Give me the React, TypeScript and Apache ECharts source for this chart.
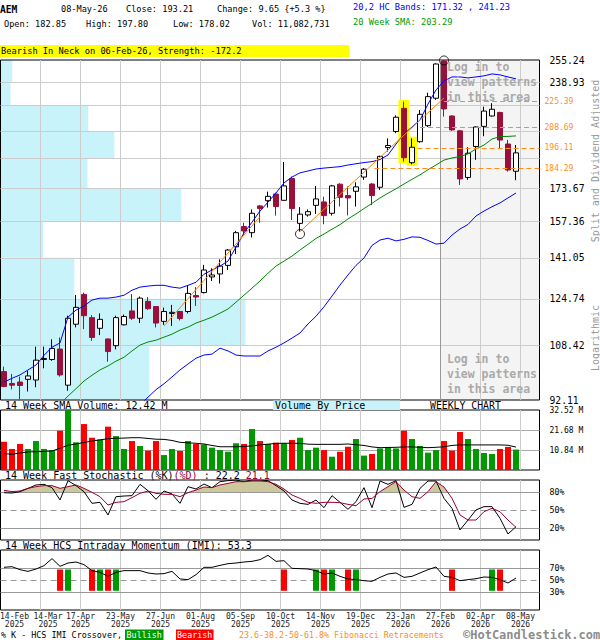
import React, { useEffect, useRef } from 'react';
import * as echarts from 'echarts';

const FONT = '"DejaVu Sans Mono", "Liberation Mono", monospace';

// ---------- data ----------
const tickLabels = [
  '14-Feb\n2025', '14-Mar\n2025', '17-Apr\n2025', '23-May\n2025', '27-Jun\n2025', '01-Aug\n2025',
  '05-Sep\n2025', '10-Oct\n2025', '14-Nov\n2025', '19-Dec\n2025', '23-Jan\n2026', '27-Feb\n2026',
  '02-Apr\n2026', '08-May\n2026',
];

const opens = [100.3, 96.8, 97.2, 98.0, 97.8, 104.0, 104.0, 107.3, 96.3, 115.6, 126.4, 117.9, 114.2, 110.6, 108.4, 115.4, 120.3, 117.7, 123.8, 121.9, 116.6, 119.4, 120.1, 120.1, 126.0, 127.1, 133.2, 134.4, 137.9, 145.8, 154.9, 152.1, 164.8, 167.4, 170.8, 167.6, 178.9, 156.4, 160.4, 165.1, 166.8, 161.2, 175.9, 170.0, 172.2, 179.7, 176.0, 174.3, 196.3, 206.0, 220.8, 187.6, 199.8, 209.6, 227.6, 254.5, 215.8, 206.4, 179.5, 196.9, 209.2, 215.8, 218.1, 198.4, 182.85];
const highs = [101.8, 99.6, 98.8, 100.6, 108.1, 108.1, 110.5, 111.1, 118.6, 126.2, 127.1, 118.8, 119.4, 110.8, 118.6, 119.0, 126.5, 125.6, 125.4, 121.9, 121.5, 122.5, 120.3, 129.7, 129.2, 138.1, 136.7, 140.4, 144.8, 152.9, 156.7, 163.1, 165.3, 172.0, 171.5, 188.0, 180.0, 164.2, 163.1, 175.0, 169.4, 175.5, 176.4, 174.7, 176.9, 184.6, 176.4, 191.6, 201.8, 216.2, 225.3, 201.8, 219.7, 231.4, 252.7, 255.2, 216.2, 207.0, 196.5, 209.2, 221.9, 224.2, 218.6, 200.8, 197.80];
const lows = [95.7, 95.1, 92.3, 94.5, 95.7, 101.3, 103.6, 98.8, 94.7, 114.5, 113.9, 110.0, 111.9, 103.3, 107.2, 115.2, 117.1, 116.0, 120.7, 114.5, 115.4, 115.0, 116.9, 119.4, 122.1, 126.8, 131.6, 130.6, 136.0, 142.7, 150.6, 149.9, 156.7, 164.0, 160.1, 167.4, 158.0, 152.6, 159.6, 160.9, 156.0, 160.1, 164.5, 160.2, 164.5, 178.2, 165.2, 172.9, 194.0, 205.0, 188.2, 186.7, 199.2, 208.8, 226.5, 215.4, 206.4, 175.5, 178.2, 189.2, 203.1, 215.4, 195.9, 182.7, 178.02];
const closes = [95.9, 96.3, 96.2, 99.0, 103.8, 104.3, 107.5, 99.3, 117.7, 121.6, 118.6, 111.1, 117.3, 106.5, 117.9, 118.3, 117.7, 125.0, 121.1, 116.0, 120.1, 119.8, 117.6, 126.8, 125.4, 136.0, 134.0, 137.6, 144.4, 152.1, 152.9, 161.2, 163.5, 169.6, 164.5, 175.0, 163.5, 160.8, 162.0, 168.3, 160.1, 175.0, 169.1, 168.8, 174.5, 184.0, 170.0, 191.2, 197.5, 215.0, 190.4, 196.5, 216.9, 228.7, 252.2, 220.4, 207.0, 178.7, 193.0, 208.8, 219.0, 220.2, 200.8, 183.56, 193.21];

const upperBand = [97.2, 98.3, 99.3, 100.8, 102.3, 105.3, 107.9, 109.3, 118.1, 120.6, 122.1, 124.3, 125.0, 125.0, 125.4, 126.1, 128.0, 129.2, 129.6, 129.9, 129.9, 129.2, 128.8, 129.9, 131.1, 134.3, 136.0, 137.6, 139.7, 145.7, 152.0, 157.0, 162.3, 166.7, 171.3, 176.6, 179.7, 182.0, 183.0, 184.1, 184.6, 185.0, 185.4, 186.3, 187.0, 187.7, 188.2, 189.4, 192.0, 198.4, 204.5, 208.8, 213.2, 223.7, 233.3, 239.7, 242.6, 242.6, 241.9, 242.6, 243.4, 244.8, 244.1, 242.6, 241.23];
const lowerBandStart = 16;
const lowerBand = [88.5, 90.8, 92.9, 95.0, 96.7, 98.7, 100.8, 102.6, 104.4, 105.4, 105.7, 107.6, 106.7, 105.4, 105.1, 105.1, 105.1, 106.7, 107.9, 109.3, 110.9, 112.6, 115.7, 118.4, 121.8, 125.8, 130.0, 134.0, 137.9, 141.0, 146.4, 148.8, 149.6, 148.4, 149.1, 150.2, 150.0, 148.6, 147.0, 147.4, 151.0, 153.8, 155.9, 159.9, 162.3, 164.4, 166.3, 168.8, 171.32];
const smaStart = 7;
const sma20 = [91.0, 93.2, 95.3, 97.5, 99.2, 100.8, 102.0, 103.5, 104.7, 106.7, 108.6, 109.6, 110.2, 111.2, 112.2, 113.6, 114.6, 116.0, 117.0, 118.1, 119.5, 121.0, 123.5, 126.1, 128.8, 131.6, 134.7, 137.6, 139.7, 141.8, 144.4, 146.9, 149.5, 151.5, 153.7, 155.8, 158.5, 160.9, 163.5, 166.1, 168.8, 171.2, 173.5, 176.0, 178.5, 180.9, 183.7, 186.3, 189.1, 190.3, 191.1, 192.6, 195.5, 197.8, 201.4, 202.9, 203.0, 203.29];

const volumes = [15.3, 11.4, 14.1, 11.4, 15.7, 11.4, 10.8, 21.3, 32.5, 15.0, 24.9, 17.5, 16.6, 23.5, 18.4, 11.4, 15.7, 13.0, 10.5, 15.7, 8.1, 11.4, 10.3, 15.7, 14.1, 13.9, 12.1, 10.8, 9.9, 14.5, 14.1, 22.2, 15.7, 14.1, 14.8, 14.5, 16.3, 17.5, 10.8, 12.1, 10.8, 7.2, 9.9, 12.6, 16.8, 7.8, 8.7, 11.7, 12.5, 11.7, 21.3, 16.8, 13.0, 9.4, 10.8, 15.7, 10.5, 20.6, 16.8, 11.4, 9.2, 8.7, 11.4, 12.5, 11.08];
const volSma = [8.9, 8.5, 9.2, 9.8, 9.9, 10.1, 10.3, 11.8, 13.4, 14.1, 14.9, 15.7, 16.3, 17.0, 17.2, 17.3, 17.5, 17.5, 17.1, 16.7, 16.6, 16.0, 15.0, 14.7, 14.5, 14.1, 13.3, 12.6, 12.6, 12.6, 12.7, 13.1, 13.6, 14.0, 14.4, 14.5, 14.5, 14.4, 14.0, 13.9, 13.9, 13.9, 13.9, 14.1, 13.7, 13.3, 12.5, 12.1, 12.2, 12.3, 12.5, 12.5, 12.3, 12.1, 12.3, 12.6, 13.3, 13.6, 13.6, 13.6, 13.6, 13.6, 13.6, 13.4, 12.42];

const stochK = [78.8, 78.3, 80.5, 86, 91.7, 92.8, 87.2, 66.7, 98.9, 90.6, 80.5, 61.1, 62.8, 41.7, 72.2, 73.3, 73.9, 92.8, 82.2, 67.8, 81.7, 76.7, 61.1, 88.9, 85, 93.3, 87.2, 97.2, 98.9, 100, 97.2, 100, 100, 98.9, 90.6, 81.7, 66.7, 61.1, 59.4, 66.7, 53.9, 73.9, 62.8, 51.1, 63.9, 87.2, 53.9, 98.3, 92.8, 98.9, 54.4, 59.4, 86.1, 98.3, 98.3, 69.4, 52.8, 16.7, 33.3, 50, 55.6, 55.6, 36.1, 10, 22.2];
const stochD = [82.8, 80.6, 81.7, 86.1, 88.9, 90.6, 90.6, 86.1, 88.9, 91.7, 86.1, 79.4, 72.2, 58.3, 62.8, 63.9, 70.6, 77.8, 81.7, 77.8, 76.1, 76.1, 72.2, 78.9, 83.3, 88.3, 87.2, 91.7, 94.4, 97.2, 97.2, 98.3, 98.3, 97.2, 92.8, 85, 75, 69.4, 62.8, 61.1, 62.8, 62.8, 62.2, 59.4, 57.2, 68.3, 69.4, 80.6, 88.9, 97.2, 83.3, 72.2, 69.4, 80.6, 97.2, 88.3, 69.4, 41.7, 33.3, 33.3, 47.2, 52.8, 47.2, 33.3, 21.1];
const stochLevels = [20, 50, 80];
const stochFillLevel = 80;

const imi = [71.1, 72.2, 67.2, 64.4, 68.3, 73.9, 85.6, 72.8, 78.3, 80, 75.6, 65.6, 62.8, 56.1, 62.8, 65.6, 65.6, 65.6, 61.7, 60, 60.6, 64.4, 51.7, 50.6, 58.9, 71.1, 71.1, 74.4, 77.2, 78.3, 80, 81.1, 83.9, 91.1, 81.1, 82.2, 69.4, 68.9, 68.3, 65.6, 60, 61.7, 56.1, 51.7, 50.6, 48.9, 47.8, 54.4, 60, 61.7, 54.4, 56.1, 61.7, 67.2, 71.7, 56.1, 54.4, 48.9, 50.6, 52.2, 55, 54.4, 50.6, 45, 53.3];
const imiLevels = [30, 50, 70];
const bullishCross = [8, 12, 14, 39, 41, 44, 61];
const bearishCross = [7, 11, 13, 35, 40, 43, 56, 62];
const crossBarRange = [32, 67.5];

const priceLevels = [92.11, 108.42, 124.74, 141.05, 157.36, 173.67, 189.98, 206.29, 222.61, 238.93, 255.24];
const priceLevelShown = [true, true, true, true, true, true, false, false, false, true, true];
const vbpVolumes = [74.4, 122.5, 36.9, 21.4, 90.4, 43.5, 56.9, 43.9, 5.0, 5.9];

const fibLevels = [225.39, 208.69, 196.11, 184.29];
const fibStartIdx = [55, 52, 51.7, 46.3];
const trendLines = [
  [[20, 115.0], [32, 159.6]],
  [[37, 152.6], [55, 227.8]],
];
const swingPoints = [[37, 151.5], [55, 254.9]];
const patternIdx = [50, 51];
const lockedFromIdx = 54.5625;

// ---------- helpers ----------
const X_OFF = 0.4375;
const X_MAX = 67.375;
const xOf = (i: number) => i + X_OFF;

const txt = (text: string, x: number, y: number, o: any = {}) => ({
  type: 'text', x, y, silent: true, z: 100, rotation: o.rotation || 0,
  style: {
    text, fill: o.color || '#000', fontSize: o.size || 8.6, fontFamily: FONT,
    fontWeight: o.bold ? 'bold' : 'normal',
    align: o.align || 'left', textAlign: o.align || 'left',
    verticalAlign: 'middle', textVerticalAlign: 'middle',
    rich: o.rich,
  },
});

const xAxisBase = (gridIndex: number) => ({
  type: 'value', gridIndex, min: 0, max: X_MAX, interval: 5,
  axisLine: { show: false }, axisTick: { show: false },
  splitLine: { show: true, showMinLine: false, showMaxLine: false, lineStyle: { color: '#cccccc', width: 1 } },
  axisLabel: { show: false },
});

const levelLines = (levels: number[]) => ({
  silent: true, symbol: ['none', 'none'], z: 1, animation: false,
  label: { show: false },
  lineStyle: { color: '#999', width: 1, type: 'solid' },
  data: levels.map((v) => ({ yAxis: v, lineStyle: { type: v === 50 ? [6, 4] : 'solid' } })),
});

// shift a centred tick label to the right by `shift` px (the first labels sit against the left edge)
const xRich = (shift: number) => ({
  padding: [0, -2 * shift, 0, 0], fontSize: 8, lineHeight: 8, fontFamily: FONT, color: '#222',
});

function buildOption(): any {
  const candleData = opens.map((o, i) => [xOf(i), o, closes[i], lows[i], highs[i]]);

  const gridCommon = {
    left: 0.5, width: 539, show: true, borderColor: '#000', borderWidth: 1,
    backgroundColor: 'transparent', containLabel: false, outerBoundsMode: 'none',
  };

  const priceMarkLines = priceLevels.map((p, k) => {
    const edge = k === 0 || k === priceLevels.length - 1;
    const it: any = { name: p.toFixed(2), yAxis: p, label: { show: priceLevelShown[k], color: '#000' } };
    if (edge) it.lineStyle = { color: 'rgba(0,0,0,0)' };
    return it;
  });

  const graphics: any[] = [
    txt('AEM', 0, 9, { bold: true, size: 9.6 }),
    txt('08-May-26', 61, 9),
    txt('Close: 193.21', 126, 9),
    txt('Change: 9.65 {+5.3 %}', 217, 9),
    txt('Open: 182.85', 4, 24),
    txt('High: 197.80', 86, 24),
    txt('Low: 178.02', 173, 24),
    txt('Vol: 11,082,731', 252, 24),
    txt('20,2 HC Bands: 171.32 , 241.23', 353, 7, { color: '#0000ff', size: 8.7 }),
    txt('20 Week SMA: 203.29', 353, 22, { color: '#009900', size: 8.7 }),
    { type: 'rect', silent: true, z: 99, shape: { x: 0, y: 45, width: 349, height: 12 }, style: { fill: '#ffff00' } },
    txt('Bearish In Neck on 06-Feb-26, Strength: -172.2', 1, 51, { size: 8.7 }),
    txt('Log in to', 447, 67, { bold: true, size: 11.5, color: '#aaaaaa' }),
    txt('view patterns', 447, 82, { bold: true, size: 11.5, color: '#aaaaaa' }),
    txt('in this area', 447, 97, { bold: true, size: 11.5, color: '#aaaaaa' }),
    txt('Log in to', 447, 359, { bold: true, size: 11.5, color: '#aaaaaa' }),
    txt('view patterns', 447, 374, { bold: true, size: 11.5, color: '#aaaaaa' }),
    txt('in this area', 447, 389, { bold: true, size: 11.5, color: '#aaaaaa' }),
    txt('Split and Dividend Adjusted', 595, 161, { size: 10, color: '#999', align: 'center', rotation: Math.PI / 2 }),
    txt('Logarithmic', 595, 338, { size: 10, color: '#999', align: 'center', rotation: Math.PI / 2 }),
    txt('14 Week SMA Volume: 12.42 M', 5, 405, { size: 10 }),
    { type: 'rect', silent: true, z: 99, shape: { x: 273, y: 400.5, width: 127, height: 9.5 }, style: { fill: '#c8f3fa' } },
    txt('Volume By Price', 275, 405, { size: 10 }),
    txt('WEEKLY CHART', 430, 405, { size: 9.8 }),
    txt('{a|14 Week Fast Stochastic (%K)}{b|(%D)}{a| : 22.2 }{b|21.1}', 5, 475, {
      size: 10,
      rich: {
        a: { fill: '#000', fontSize: 10, fontFamily: FONT },
        b: { fill: '#990033', fontSize: 10, fontFamily: FONT },
      },
    }),
    txt('14 Week HCS Intraday Momentum (IMI): 53.3', 5, 545, { size: 10 }),
    txt('% K - HCS IMI Crossover,', 1, 634.5, { size: 8.4 }),
    { type: 'rect', silent: true, z: 99, shape: { x: 125, y: 629.5, width: 38.5, height: 10.5 }, style: { fill: '#009900' } },
    txt('Bullish', 144.2, 634.8, { size: 8.4, color: '#fff', align: 'center' }),
    { type: 'rect', silent: true, z: 99, shape: { x: 176, y: 629.5, width: 37.5, height: 10.5 }, style: { fill: '#ff0000' } },
    txt('Bearish', 194.7, 634.8, { size: 8.4, color: '#fff', align: 'center' }),
    txt('23.6-38.2-50-61.8% Fibonacci Retracements', 239, 634.5, { size: 8.3, color: '#ff8c1a' }),
    txt('\u00A9HotCandlestick.com', 463, 634.5, { size: 12, bold: true, color: '#8c8c8c' }),
  ];

  return {
    animation: false,
    backgroundColor: '#ffffff',
    textStyle: { fontFamily: FONT },
    grid: [
      { ...gridCommon, top: 60, height: 340 },
      { ...gridCommon, top: 410, height: 60 },
      { ...gridCommon, top: 480, height: 60 },
      { ...gridCommon, top: 550, height: 60 },
    ],
    xAxis: [
      xAxisBase(0),
      xAxisBase(1),
      xAxisBase(2),
      {
        ...xAxisBase(3),
        axisLabel: {
          show: true, margin: 2, showMinLabel: true, showMaxLabel: false, hideOverlap: false,
          fontFamily: FONT, fontSize: 8, lineHeight: 8, color: '#222',
          formatter: (v: number) => {
            const k = Math.round(v / 5);
            if (Math.abs(v - k * 5) > 1e-6 || k < 0 || k >= tickLabels.length) return '';
            const [a, b] = tickLabels[k].split('\n');
            const s = k === 0 ? 'f' : k === 1 ? 'g' : 'n';
            return `{${s}|${a}}\n{${s}|${b}}`;
          },
          rich: { f: xRich(14), g: xRich(7.5), n: xRich(0) },
        },
      },
      { type: 'value', gridIndex: 0, min: 0, max: 269.5, show: false },
    ],
    yAxis: [
      {
        type: 'log', logBase: 10, gridIndex: 0, min: 92.11, max: 255.24,
        axisLine: { show: false }, axisTick: { show: false }, axisLabel: { show: false }, splitLine: { show: false },
      },
      {
        type: 'value', gridIndex: 1, position: 'right', min: 0, max: 32.52, interval: 10.84,
        axisLine: { show: false }, axisTick: { show: false },
        splitLine: { show: true, showMinLine: false, showMaxLine: false, lineStyle: { color: '#aaaaaa' } },
        axisLabel: {
          margin: 10, fontFamily: FONT, fontSize: 8, color: '#000', padding: [3, 0, 0, 0],
          formatter: (v: number) => (v < 1 ? '' : v.toFixed(2) + ' M'),
        },
      },
      {
        type: 'value', gridIndex: 2, position: 'right', min: 0, max: 100, interval: 10,
        axisLine: { show: false }, axisTick: { show: false }, splitLine: { show: false },
        axisLabel: {
          margin: 10, fontFamily: FONT, fontSize: 8.3, color: '#000',
          formatter: (v: number) => (stochLevels.includes(Math.round(v)) ? Math.round(v) + '%' : ''),
        },
      },
      {
        type: 'value', gridIndex: 3, position: 'right', min: 0, max: 100, interval: 10,
        axisLine: { show: false }, axisTick: { show: false }, splitLine: { show: false },
        axisLabel: {
          margin: 10, fontFamily: FONT, fontSize: 8.3, color: '#000',
          formatter: (v: number) => (imiLevels.includes(Math.round(v)) ? Math.round(v) + '%' : ''),
        },
      },
    ],
    series: [
      // candles
      {
        type: 'candlestick', xAxisIndex: 0, yAxisIndex: 0, z: 2, barWidth: 5,
        data: candleData,
        itemStyle: { color: '#ffffff', color0: '#99103a', borderColor: '#000000', borderColor0: '#99103a', borderWidth: 1 },
        markArea: {
          silent: true, z: -3, itemStyle: { color: '#f4f4f4' },
          data: [[{ xAxis: lockedFromIdx + X_OFF }, { xAxis: X_MAX }]],
        },
        markLine: {
          silent: true, z: 1, symbol: ['none', 'none'], animation: false,
          lineStyle: { color: '#cccccc', width: 1, type: 'solid' },
          label: {
            show: true, position: 'end', distance: 10, formatter: '{b}', color: '#000',
            fontFamily: FONT, fontSize: 9.7, padding: [0, 0, 6, 0],
          },
          data: [
            ...priceMarkLines,
            { xAxis: lockedFromIdx + X_OFF, lineStyle: { color: '#999999' }, label: { show: false } },
          ],
        },
      },
      // volume by price
      {
        type: 'custom', xAxisIndex: 4, yAxisIndex: 0, z: -2, silent: true,
        data: vbpVolumes.map((v, k) => [v, priceLevels[k], priceLevels[k + 1]]),
        encode: { x: 0, y: [1, 2] },
        renderItem: (_p: any, api: any) => {
          const a = api.coord([0, api.value(2)]);
          const b = api.coord([api.value(0), api.value(1)]);
          return { type: 'rect', shape: { x: a[0], y: a[1], width: b[0] - a[0], height: b[1] - a[1] }, style: { fill: '#c8f3fa' } };
        },
      },
      // upper band (+ fib lines, pattern boxes)
      {
        type: 'line', xAxisIndex: 0, yAxisIndex: 0, z: 3, symbol: 'none',
        lineStyle: { color: '#0000ff', width: 1 },
        data: upperBand.map((v, i) => [xOf(i), v]),
        markLine: {
          silent: true, z: 5, symbol: ['none', 'none'], animation: false,
          lineStyle: { color: '#ff8c1a', width: 1.2, type: [5, 3] },
          label: {
            show: true, position: 'end', distance: 5, formatter: '{b}', color: '#ff8c1a',
            fontFamily: FONT, fontSize: 8, padding: [0, 0, 2, 0],
          },
          data: fibLevels.map((f, k) => [
            { name: f.toFixed(2), coord: [xOf(fibStartIdx[k]), f] },
            { coord: [X_MAX, f] },
          ]),
        },
        markArea: {
          silent: true, z: 1.5, itemStyle: { color: '#ffff00' },
          data: patternIdx.map((i) => [
            { coord: [xOf(i) - 0.7, highs[i] * 1.005] },
            { coord: [xOf(i) + 0.7, lows[i] * 0.995] },
          ]),
        },
      },
      // lower band
      {
        type: 'line', xAxisIndex: 0, yAxisIndex: 0, z: 3, symbol: 'none',
        lineStyle: { color: '#0000ff', width: 1 },
        data: lowerBand.map((v, k) => [xOf(k + lowerBandStart), v]),
      },
      // 20w sma
      {
        type: 'line', xAxisIndex: 0, yAxisIndex: 0, z: 3, symbol: 'none',
        lineStyle: { color: '#008800', width: 1 },
        data: sma20.map((v, k) => [xOf(k + smaStart), v]),
      },
      // trend lines
      ...trendLines.map((tl) => ({
        type: 'line', xAxisIndex: 0, yAxisIndex: 0, z: 3, symbol: 'none',
        lineStyle: { color: '#ff8000', width: 1 },
        data: tl.map(([i, p]) => [xOf(i), p]),
      })),
      // swing circles
      {
        type: 'scatter', xAxisIndex: 0, yAxisIndex: 0, z: 4, symbol: 'circle', symbolSize: 9,
        itemStyle: { color: 'rgba(0,0,0,0)', borderColor: '#000', borderWidth: 1 },
        data: swingPoints.map(([i, p]) => [xOf(i), p]),
      },
      // volume bars
      {
        type: 'bar', xAxisIndex: 1, yAxisIndex: 1, z: 2, barWidth: 6,
        data: volumes.map((v, i) => ({
          value: [xOf(i), v],
          itemStyle: { color: closes[i] >= opens[i] ? '#009900' : '#ff0000' },
        })),
      },
      // volume sma
      {
        type: 'line', xAxisIndex: 1, yAxisIndex: 1, z: 3, symbol: 'none',
        lineStyle: { color: '#000', width: 1 },
        data: volSma.map((v, i) => [xOf(i), v]),
      },
      // stochastic fill above 80 (between %D and the 80 level)
      {
        type: 'custom', xAxisIndex: 2, yAxisIndex: 2, z: 1, silent: true, clip: true,
        data: stochD.slice(0, -1).map((v, i) => [xOf(i), v, xOf(i + 1), stochD[i + 1]]),
        encode: { x: [0, 2], y: [1, 3] },
        renderItem: (_p: any, api: any) => {
          const p1 = api.coord([api.value(0), api.value(1)]);
          const p2 = api.coord([api.value(2), api.value(3)]);
          const yl = api.coord([api.value(0), stochFillLevel])[1];
          const a1 = p1[1] < yl;
          const a2 = p2[1] < yl;
          if (!a1 && !a2) return null;
          let pts: number[][];
          if (a1 && a2) {
            pts = [p1, p2, [p2[0], yl], [p1[0], yl]];
          } else {
            const t = (yl - p1[1]) / (p2[1] - p1[1]);
            const xi = p1[0] + t * (p2[0] - p1[0]);
            pts = a1 ? [p1, [xi, yl], [p1[0], yl]] : [[xi, yl], p2, [p2[0], yl]];
          }
          return { type: 'polygon', shape: { points: pts }, style: { fill: '#cdc89c' } };
        },
      },
      // %K
      {
        type: 'line', xAxisIndex: 2, yAxisIndex: 2, z: 3, symbol: 'none',
        lineStyle: { color: '#000', width: 1 },
        data: stochK.map((v, i) => [xOf(i), v]),
        markLine: levelLines(stochLevels),
      },
      // %D
      {
        type: 'line', xAxisIndex: 2, yAxisIndex: 2, z: 3, symbol: 'none',
        lineStyle: { color: '#990033', width: 1 },
        data: stochD.map((v, i) => [xOf(i), v]),
      },
      // IMI
      {
        type: 'line', xAxisIndex: 3, yAxisIndex: 3, z: 3, symbol: 'none',
        lineStyle: { color: '#000', width: 1 },
        data: imi.map((v, i) => [xOf(i), v]),
        markLine: levelLines(imiLevels),
      },
      // crossovers
      {
        type: 'custom', xAxisIndex: 3, yAxisIndex: 3, z: 2, silent: true,
        data: [...bullishCross.map((i) => [xOf(i), 1]), ...bearishCross.map((i) => [xOf(i), 0])],
        encode: { x: 0, y: 1 },
        renderItem: (_p: any, api: any) => {
          const top = api.coord([api.value(0), crossBarRange[1]]);
          const bot = api.coord([api.value(0), crossBarRange[0]]);
          return {
            type: 'rect',
            shape: { x: top[0] - 3, y: top[1], width: 6, height: bot[1] - top[1] },
            style: { fill: api.value(1) === 1 ? '#009900' : '#ff0000' },
          };
        },
      },
    ],
    graphic: { elements: graphics },
  };
}

export default function App() {
  const ref = useRef<HTMLDivElement>(null);
  useEffect(() => {
    if (!ref.current) return;
    const chart = echarts.init(ref.current, undefined, { renderer: 'svg', width: 600, height: 640 });
    chart.setOption(buildOption());
    return () => chart.dispose();
  }, []);
  return (
    <div
      ref={ref}
      style={{ position: 'fixed', left: 0, top: 0, width: 600, height: 640, background: '#fff' }}
    />
  );
}
